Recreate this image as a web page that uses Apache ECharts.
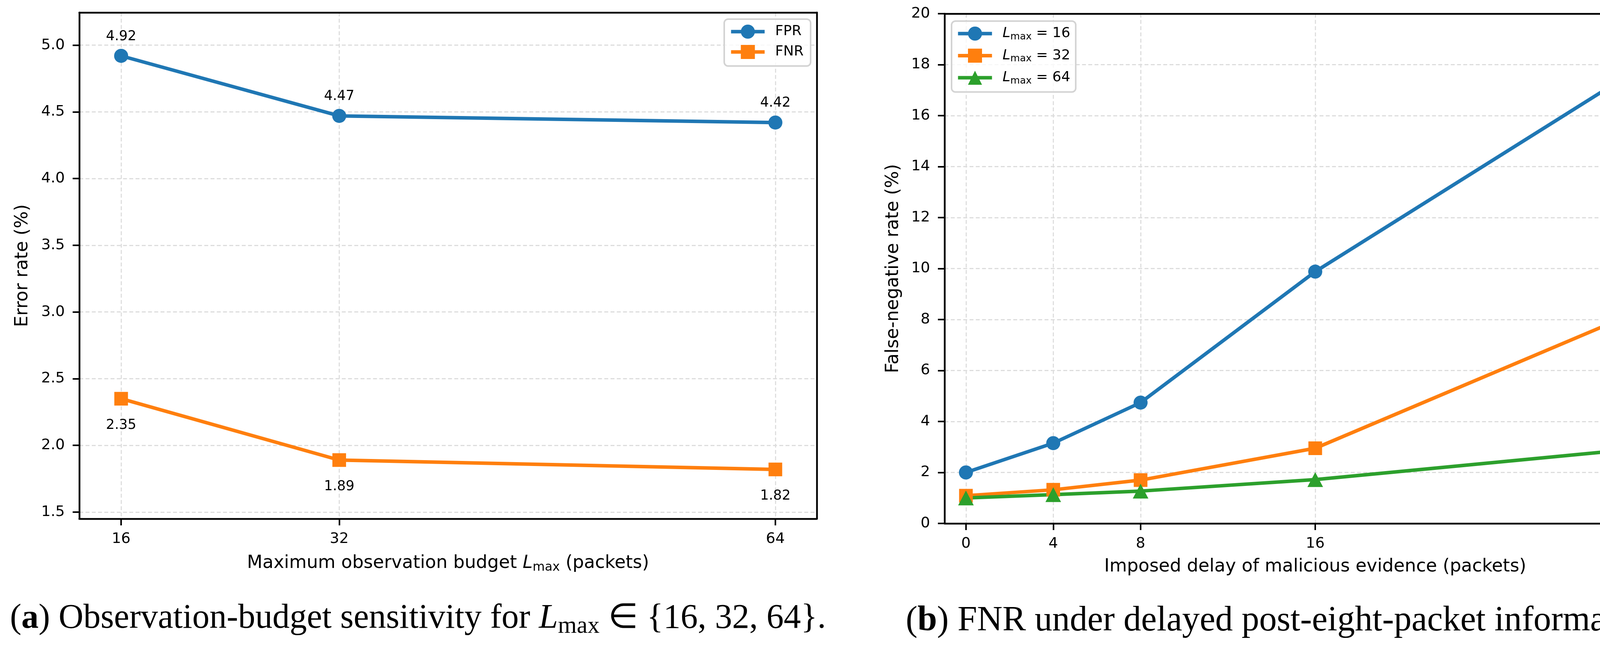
<!DOCTYPE html>
<html>
<head>
<meta charset="utf-8">
<script src="https://cdn.jsdelivr.net/npm/echarts/dist/echarts.min.js"></script>
</head>
<body style="margin:0;background:#ffffff">
<div id="chart" style="width:4334px;height:1664px"></div>
<script>
// (a) observation budget sensitivity
const budgetTicks = [16, 32, 64];
const fprRates = [4.92, 4.47, 4.42];
const fnrRates = [2.35, 1.89, 1.82];
const errorTicks = [1.5, 2.0, 2.5, 3.0, 3.5, 4.0, 4.5, 5.0];

// (b) FNR under delayed evidence, one line per L_max
const delayTicks = [0, 4, 8, 16, 32];
const fnrL16 = [2.0, 3.15, 4.74, 9.88, 18.48];
const fnrL32 = [1.09, 1.32, 1.70, 2.95, 8.75];
const fnrL64 = [1.0, 1.13, 1.27, 1.72, 3.03];
const fnrTicks = [0, 2, 4, 6, 8, 10, 12, 14, 16, 18, 20];
const lmaxNames = ['16', '32', '64'];

const FONT = 'DejaVu Sans';
const SERIF = 'Liberation Serif';
const BLUE = '#1f77b4', ORANGE = '#ff7f0e', GREEN = '#2ca02c';

function pairs(xs, ys) {
    return xs.map(function (x, i) { return [x, ys[i]]; });
}

// L_max written as italic L + subscript "max"
function mathRich(size) {
    return {
        i: {fontFamily: FONT, fontStyle: 'italic', fontSize: size, color: '#000'},
        s: {fontFamily: FONT, fontSize: Math.round(size * 0.7), color: '#000', padding: [Math.round(size * 0.45), 0, 0, 0]},
        g: {fontFamily: FONT, fontSize: size, width: 22}
    };
}

const gridLine = {show: true, lineStyle: {color: '#dddddd', width: 2.8, type: [10, 6]}};

function mainX(grid, min, max, ticks, name) {
    return {
        type: 'value', gridIndex: grid, position: 'bottom', min: min, max: max, z: 1,
        name: name, nameLocation: 'middle', nameGap: 88, nameMoveOverlap: false,
        nameTextStyle: {fontFamily: FONT, fontSize: 46, color: '#000', rich: mathRich(46)},
        axisLine: {show: true, onZero: false, lineStyle: {color: '#000', width: 4.5}},
        axisTick: {show: true, customValues: ticks, length: 17, lineStyle: {color: '#000', width: 4}},
        axisLabel: {customValues: ticks, margin: 33, fontFamily: FONT, fontSize: 38, color: '#000'},
        splitLine: gridLine
    };
}

function mainY(grid, min, max, ticks, name, gap, fmt) {
    return {
        type: 'value', gridIndex: grid, position: 'left', min: min, max: max,
        name: name, nameLocation: 'middle', nameGap: gap, nameMoveOverlap: false,
        nameTextStyle: {fontFamily: FONT, fontSize: 46, color: '#000'},
        axisLine: {show: true, onZero: false, lineStyle: {color: '#000', width: 4.5}},
        axisTick: {show: true, customValues: ticks, length: 17, lineStyle: {color: '#000', width: 4}},
        axisLabel: {customValues: ticks, margin: 37, fontFamily: FONT, fontSize: 38, color: '#000', formatter: fmt},
        splitLine: gridLine
    };
}

// plain black edge for the top / right side of each frame
function frame(grid, position) {
    return {
        type: 'value', gridIndex: grid, position: position, min: 0, max: 1, z: 3, silent: true,
        axisLine: {show: true, onZero: false, lineStyle: {color: '#000', width: 4.5}},
        axisTick: {show: false}, axisLabel: {show: false}, splitLine: {show: false}
    };
}

function lineSeries(name, xi, yi, xs, ys, color, symbol, size, label) {
    return {
        name: name, type: 'line', xAxisIndex: xi, yAxisIndex: yi,
        data: pairs(xs, ys),
        symbol: symbol, symbolSize: size, showAllSymbol: true,
        lineStyle: {width: 9, color: color},
        itemStyle: {color: color},
        label: label || {show: false},
        emphasis: {disabled: true}
    };
}

function valueLabel(position, distance) {
    return {
        show: true, position: position, distance: distance, color: '#000',
        fontFamily: FONT, fontSize: 35,
        formatter: function (p) { return p.value[1].toFixed(2); }
    };
}

const myChart = echarts.init(document.getElementById('chart'));

const option = {
    backgroundColor: '#ffffff',
    animation: false,
    textStyle: {fontFamily: FONT},
    grid: [
        {left: 203, top: 32, width: 1888, height: 1296},
        {left: 2418, top: 35, width: 1898, height: 1305}
    ],
    xAxis: [
        mainX(0, 12.93, 67.04, budgetTicks, 'Maximum observation budget {i|L}{s|max} (packets)'),
        frame(0, 'top'),
        mainX(1, -0.98, 32.98, delayTicks, 'Imposed delay of malicious evidence (packets)'),
        frame(1, 'top')
    ],
    yAxis: [
        mainY(0, 1.45, 5.245, errorTicks, 'Error rate (%)', 122, function (v) { return v.toFixed(1); }),
        frame(0, 'right'),
        mainY(1, 0, 20, fnrTicks, 'False-negative rate (%)', 108),
        frame(1, 'right')
    ],
    legend: [
        {
            data: ['FPR', 'FNR'], orient: 'vertical', left: 1854, top: 49,
            padding: [14, 18, 18, 13], itemWidth: 86, itemHeight: 45, itemGap: 16,
            backgroundColor: 'rgba(255,255,255,0.8)', borderColor: '#d3d3d3', borderWidth: 4, borderRadius: 10,
            lineStyle: {width: 9},
            formatter: function (n) { return '{g| }' + n; },
            textStyle: {fontFamily: FONT, fontSize: 36, color: '#000', rich: mathRich(36)},
            selectedMode: false
        },
        {
            data: lmaxNames, orient: 'vertical', left: 2436, top: 54,
            padding: [14, 14, 16, 12], itemWidth: 87, itemHeight: 45, itemGap: 18,
            backgroundColor: 'rgba(255,255,255,0.8)', borderColor: '#d3d3d3', borderWidth: 4, borderRadius: 10,
            lineStyle: {width: 9},
            formatter: function (n) { return '{g| }{i|L}{s|max} = ' + n; },
            textStyle: {fontFamily: FONT, fontSize: 36, color: '#000', rich: mathRich(36)},
            selectedMode: false
        }
    ],
    series: [
        lineSeries('FPR', 0, 0, budgetTicks, fprRates, BLUE, 'circle', 36, valueLabel('top', 14)),
        lineSeries('FNR', 0, 0, budgetTicks, fnrRates, ORANGE, 'rect', 35, valueLabel('bottom', 33)),
        lineSeries(lmaxNames[0], 2, 2, delayTicks, fnrL16, BLUE, 'circle', 36),
        lineSeries(lmaxNames[1], 2, 2, delayTicks, fnrL32, ORANGE, 'rect', 35),
        lineSeries(lmaxNames[2], 2, 2, delayTicks, fnrL64, GREEN, 'triangle', [40, 38])
    ],
    graphic: [
        {
            type: 'text', x: 1070, y: 1584, silent: true,
            style: {
                text: '({b|a}) Observation-budget sensitivity for {i|L}{s|max} \u2208 {16, 32, 64}.',
                fontFamily: SERIF, fontSize: 88, fill: '#000', align: 'center', verticalAlign: 'middle',
                rich: {
                    b: {fontFamily: SERIF, fontSize: 88, fontWeight: 'bold'},
                    i: {fontFamily: SERIF, fontSize: 88, fontStyle: 'italic'},
                    s: {fontFamily: SERIF, fontSize: 62, padding: [40, 0, 0, 0]}
                }
            }
        },
        {
            type: 'text', x: 3296, y: 1590, silent: true,
            style: {
                text: '({b|b}) FNR under delayed post-eight-packet information.',
                fontFamily: SERIF, fontSize: 90, fill: '#000', align: 'center', verticalAlign: 'middle',
                rich: {
                    b: {fontFamily: SERIF, fontSize: 90, fontWeight: 'bold'}
                }
            }
        }
    ]
};

myChart.setOption(option);
window.addEventListener('resize', function () { myChart.resize(); });
</script>
</body>
</html>
